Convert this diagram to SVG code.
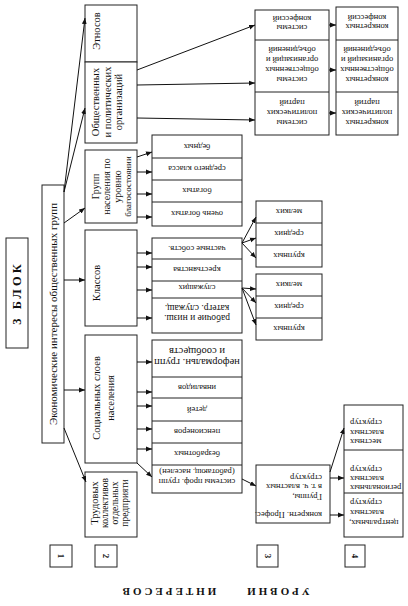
<svg xmlns="http://www.w3.org/2000/svg" width="408" height="606" viewBox="0 0 408 606">
<defs>
<marker id="a" viewBox="0 0 10 10" refX="10" refY="5" markerWidth="6" markerHeight="6" markerUnits="userSpaceOnUse" orient="auto">
<path d="M0,1 L10,5 L0,9 z" fill="#111"/>
</marker>
<style>
.b{fill:#fff;stroke:#222;stroke-width:1}
.t{font-family:"Liberation Serif","Times New Roman",serif;fill:#111;text-anchor:middle;dominant-baseline:central}
.s{font-size:8.5px}
.m{font-size:10.5px}
.h{font-weight:bold;letter-spacing:3px}
.c line{stroke:#111;stroke-width:1;marker-end:url(#a)}
.d{stroke:#222;stroke-width:1}
</style>
</defs>
<rect width="408" height="606" fill="#fff"/>

<g id="block">
<rect class="b" x="6" y="238" width="22" height="110"/>
<text class="t h" font-size="12.5" transform="translate(17,293) rotate(-90)">3 БЛОК</text>
</g>

<g id="main">
<rect class="b" x="42" y="185" width="22" height="258"/>
<text class="t" font-size="11" transform="translate(53,314) rotate(-90)">Экономические интересы общественных групп</text>
</g>

<g id="etnos">
<rect class="b" x="85" y="5" width="52" height="57"/>
<text class="t m" transform="translate(96,31) rotate(-90)">Этносов</text>
</g>
<g id="obsch">
<rect class="b" x="85" y="62" width="52" height="81"/>
<text class="t m" transform="translate(106.5,102) rotate(-90)"><tspan x="0" y="-11.5">Общественных</tspan><tspan x="0" y="0">и политических</tspan><tspan x="0" y="11.5">организаций</tspan></text>
</g>
<g id="grupp">
<rect class="b" x="85" y="150" width="52" height="73"/>
<text class="t" font-size="10" transform="translate(111,186.5) rotate(-90)"><tspan x="0" y="-16.5">Групп</tspan><tspan x="0" y="-5.5">населения по</tspan><tspan x="0" y="5.5">уровню</tspan><tspan x="0" y="16.5" font-size="9">благосостоянии</tspan></text>
</g>
<g id="klass">
<rect class="b" x="85" y="230" width="52" height="96"/>
<text class="t m" transform="translate(96,283) rotate(-90)">Классов</text>
</g>
<g id="social">
<rect class="b" x="85" y="335" width="52" height="128"/>
<text class="t m" transform="translate(103,398) rotate(-90)"><tspan x="0" y="-7">Социальных слоев</tspan><tspan x="0" y="7">населения</tspan></text>
</g>
<g id="trud">
<rect class="b" x="85" y="472" width="52" height="65"/>
<text class="t" font-size="9.5" transform="translate(110,503) rotate(-90)"><tspan x="0" y="-16" font-size="10.5">Трудовых</tspan><tspan x="0" y="-5">коллективов</tspan><tspan x="0" y="5">отдельных</tspan><tspan x="0" y="15">предприяти</tspan></text>
</g>

<g id="wealth">
<rect class="b" x="152" y="135" width="90" height="91"/>
<line class="d" x1="152" y1="158" x2="242" y2="158"/>
<line class="d" x1="152" y1="180" x2="242" y2="180"/>
<line class="d" x1="152" y1="202" x2="242" y2="202"/>
<text class="t s" transform="translate(197,146.5) rotate(180)">бедных</text>
<text class="t s" transform="translate(197,169) rotate(180)">среднего класса</text>
<text class="t s" transform="translate(197,191) rotate(180)">богатых</text>
<text class="t s" transform="translate(197,214) rotate(180)">очень богатых</text>
</g>

<g id="classes">
<rect class="b" x="152" y="238" width="90" height="95"/>
<line class="d" x1="152" y1="259" x2="242" y2="259"/>
<line class="d" x1="152" y1="281" x2="242" y2="281"/>
<line class="d" x1="152" y1="298" x2="242" y2="298"/>
<text class="t s" transform="translate(197,248.5) rotate(180)">частные собств.</text>
<text class="t s" transform="translate(197,270) rotate(180)">крестьянства</text>
<text class="t s" transform="translate(197,288) rotate(180)">служащих</text>
<text class="t" font-size="9.5" transform="translate(197,313) rotate(180)"><tspan x="0" y="-5">рабочие и низш.</tspan><tspan x="0" y="5.5">категр. служащ.</tspan></text>
</g>

<g id="strata">
<rect class="b" x="152" y="340" width="90" height="153"/>
<line class="d" x1="152" y1="377" x2="242" y2="377"/>
<line class="d" x1="152" y1="398" x2="242" y2="398"/>
<line class="d" x1="152" y1="421" x2="242" y2="421"/>
<line class="d" x1="152" y1="443" x2="242" y2="443"/>
<line class="d" x1="152" y1="465" x2="242" y2="465"/>
<text class="t" font-size="10.5" transform="translate(197,357.5) rotate(180)"><tspan x="0" y="-5.5">неформальн. групп</tspan><tspan x="0" y="5.5">и сообществ</tspan></text>
<text class="t s" transform="translate(197,387.5) rotate(180)">инвалидов</text>
<text class="t s" transform="translate(197,409.5) rotate(180)">детей</text>
<text class="t s" transform="translate(197,432) rotate(180)">пенсионеров</text>
<text class="t s" transform="translate(197,454) rotate(180)">безработных</text>
<text class="t s" transform="translate(197,477) rotate(180)"><tspan x="0" y="-5">системы проф. групп</tspan><tspan x="0" y="5">(работающ. населен)</tspan></text>
</g>

<g id="systems">
<rect class="b" x="255" y="10" width="74" height="125"/>
<line class="d" x1="255" y1="40" x2="329" y2="40"/>
<line class="d" x1="255" y1="92" x2="329" y2="92"/>
<text class="t s" transform="translate(292,23.5) rotate(180)"><tspan x="0" y="-4.5">системы</tspan><tspan x="0" y="4.5">конфессий</tspan></text>
<text class="t s" transform="translate(292,65) rotate(180)"><tspan x="0" y="-15">системы</tspan><tspan x="0" y="-5">общественных</tspan><tspan x="0" y="5">организаций и</tspan><tspan x="0" y="15">объединений</tspan></text>
<text class="t s" transform="translate(292,113) rotate(180)"><tspan x="0" y="-10">системы</tspan><tspan x="0" y="0">политических</tspan><tspan x="0" y="10">партий</tspan></text>
</g>

<g id="concrete">
<rect class="b" x="336" y="7" width="62" height="128"/>
<line class="d" x1="336" y1="40" x2="398" y2="40"/>
<line class="d" x1="336" y1="92" x2="398" y2="92"/>
<text class="t s" transform="translate(367,22) rotate(180)"><tspan x="0" y="-4.5">конкретных</tspan><tspan x="0" y="4.5">конфессий</tspan></text>
<text class="t s" transform="translate(367,65) rotate(180)"><tspan x="0" y="-15">конкретных</tspan><tspan x="0" y="-5">общественных</tspan><tspan x="0" y="5">организаций и</tspan><tspan x="0" y="15">объединений</tspan></text>
<text class="t s" transform="translate(367,113) rotate(180)"><tspan x="0" y="-10">конкретных</tspan><tspan x="0" y="0">политических</tspan><tspan x="0" y="10">партий</tspan></text>
</g>

<g id="owners">
<rect class="b" x="256" y="201" width="66" height="66"/>
<line class="d" x1="256" y1="223" x2="322" y2="223"/>
<line class="d" x1="256" y1="245" x2="322" y2="245"/>
<text class="t s" transform="translate(289,212) rotate(180)">мелких</text>
<text class="t s" transform="translate(289,234) rotate(180)">средних</text>
<text class="t s" transform="translate(289,256) rotate(180)">крупных</text>
</g>

<g id="employees">
<rect class="b" x="256" y="274" width="66" height="66"/>
<line class="d" x1="256" y1="296" x2="322" y2="296"/>
<line class="d" x1="256" y1="318" x2="322" y2="318"/>
<text class="t s" transform="translate(289,285) rotate(180)">мелких</text>
<text class="t s" transform="translate(289,307) rotate(180)">средних</text>
<text class="t s" transform="translate(289,329) rotate(180)">крупных</text>
</g>

<g id="prof">
<rect class="b" x="256" y="465" width="74" height="58"/>
<g class="t s" style="text-anchor:start">
<text transform="translate(322,515) rotate(180)">конкретн. Профес.</text>
<text transform="translate(322,497) rotate(180)">Группы,</text>
<text transform="translate(322,487) rotate(180)">в т. ч. властных</text>
<text transform="translate(322,478) rotate(180)">структур</text>
</g>
</g>

<g id="power">
<rect class="b" x="344" y="405" width="59" height="132"/>
<line class="d" x1="344" y1="450" x2="403" y2="450"/>
<line class="d" x1="344" y1="493" x2="403" y2="493"/>
<g class="t s" style="text-anchor:end">
<text transform="translate(350,442) rotate(180)">местных</text>
<text transform="translate(350,433) rotate(180)">властных</text>
<text transform="translate(350,423) rotate(180)">структур</text>
<text transform="translate(350,488) rotate(180)">региональных</text>
<text transform="translate(350,479) rotate(180)">властных</text>
<text transform="translate(350,470) rotate(180)">структур</text>
<text transform="translate(349,523) rotate(180)">центральных,</text>
<text transform="translate(350,513) rotate(180)">властных</text>
<text transform="translate(350,503) rotate(180)">структур</text>
</g>
</g>

<g id="levels">
<rect class="b" x="50" y="545" width="22" height="22"/>
<text class="t" font-size="9" font-weight="bold" transform="translate(61,556) rotate(90)">1</text>
<rect class="b" x="95" y="545" width="22" height="22"/>
<text class="t" font-size="9" font-weight="bold" transform="translate(106,556) rotate(90)">2</text>
<rect class="b" x="257" y="545" width="21" height="22"/>
<text class="t" font-size="9" font-weight="bold" transform="translate(267.5,556) rotate(90)">3</text>
<rect class="b" x="345" y="545" width="20" height="22"/>
<text class="t" font-size="9" font-weight="bold" transform="translate(355,556) rotate(90)">4</text>
<text class="t h" font-size="11" transform="translate(277,592) rotate(180)">УРОВНИ</text>
<text class="t h" font-size="11" transform="translate(168,592) rotate(180)">ИНТЕРЕСОВ</text>
</g>

<g id="connectors" class="c">
<line x1="64" y1="192" x2="85" y2="18"/>
<line x1="64" y1="192" x2="85" y2="108"/>
<line x1="64" y1="223" x2="85" y2="208"/>
<line x1="64" y1="280" x2="85" y2="280"/>
<line x1="64" y1="390" x2="85" y2="390"/>
<line x1="64" y1="428" x2="86" y2="482"/>

<line x1="137" y1="70" x2="255" y2="25"/>
<line x1="137" y1="85" x2="255" y2="83"/>
<line x1="137" y1="118" x2="255" y2="120"/>
<line x1="329" y1="25" x2="336" y2="25"/>
<line x1="329" y1="70" x2="336" y2="70"/>
<line x1="329" y1="113" x2="336" y2="113"/>

<line x1="137" y1="157" x2="152" y2="152"/>
<line x1="137" y1="172" x2="152" y2="172"/>
<line x1="137" y1="194" x2="152" y2="194"/>
<line x1="137" y1="217" x2="152" y2="217"/>

<line x1="137" y1="253" x2="152" y2="253"/>
<line x1="137" y1="267" x2="152" y2="267"/>
<line x1="137" y1="290" x2="152" y2="290"/>
<line x1="137" y1="318" x2="152" y2="318"/>

<line x1="137" y1="362" x2="152" y2="362"/>
<line x1="137" y1="392" x2="152" y2="392"/>
<line x1="137" y1="406" x2="152" y2="406"/>
<line x1="137" y1="429" x2="152" y2="429"/>
<line x1="137" y1="449" x2="152" y2="449"/>
<line x1="137" y1="463" x2="152" y2="477"/>

<line x1="242" y1="243" x2="256" y2="217"/>
<line x1="242" y1="243" x2="256" y2="238"/>
<line x1="242" y1="243" x2="256" y2="258"/>
<line x1="242" y1="288" x2="256" y2="289"/>
<line x1="242" y1="288" x2="256" y2="303"/>
<line x1="242" y1="288" x2="256" y2="325"/>

<line x1="242" y1="479" x2="256" y2="486"/>
<line x1="330" y1="472" x2="344" y2="428"/>
<line x1="330" y1="478" x2="344" y2="478"/>
<line x1="330" y1="515" x2="344" y2="515"/>
</g>
</svg>
